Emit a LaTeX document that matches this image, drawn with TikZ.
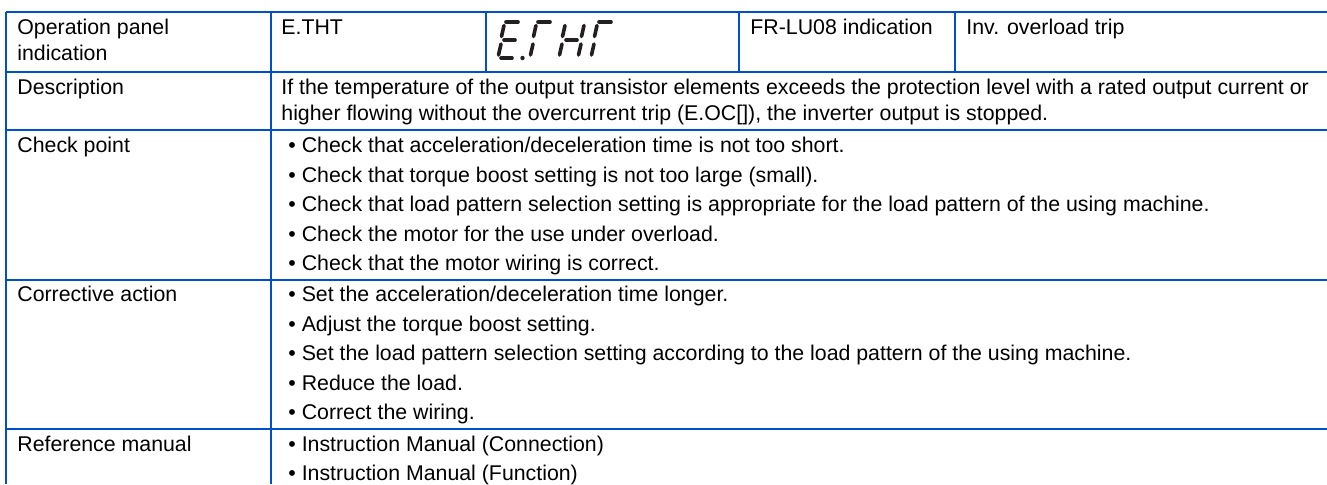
\documentclass[tikz,border=0pt]{standalone}
\usepackage{fontspec}
\setmainfont{Liberation Sans}
\definecolor{tblue}{RGB}{0,80,200}
\definecolor{segc}{RGB}{35,31,32}
\tikzset{
  grid/.style={draw=tblue, line width=0.9pt},
  txt/.style={anchor=base west, inner sep=0pt, font=\fontsize{10.66pt}{13pt}\selectfont},
  seg/.style={draw=segc, line width=1.8pt, line cap=round},
}
\newcommand{\segE}[1]{%
  \draw[seg] (#1+8,22) -- (#1+20,22);
  \draw[seg] (#1+6,25.5) -- (#1+3.5,36.5);
  \draw[seg] (#1+6,40) -- (#1+17,40);
  \draw[seg] (#1+3,44) -- (#1+0.5,55);
  \draw[seg] (#1+3,58) -- (#1+14,58);
}
\newcommand{\segT}[1]{%
  \draw[seg] (#1+8,22) -- (#1+20,22);
  \draw[seg] (#1+6,25.5) -- (#1+3.5,36.5);
  \draw[seg] (#1+3,44) -- (#1+0.5,55);
}
\newcommand{\segH}[1]{%
  \draw[seg] (#1+6,25.5) -- (#1+3.5,36.5);
  \draw[seg] (#1+3,44) -- (#1+0.5,55);
  \draw[seg] (#1+7,40) -- (#1+18,40);
  \draw[seg] (#1+25,25.5) -- (#1+22.5,36.5);
  \draw[seg] (#1+22,44) -- (#1+19.5,55);
}
\begin{document}
\begin{tikzpicture}[x=0.5pt,y=-0.5pt]
\useasboundingbox (0,0) rectangle (1327,484);
% grid
\draw[grid] (6,12) -- (1327,12);
\draw[grid] (6,72) -- (1327,72);
\draw[grid] (6,130) -- (1327,130);
\draw[grid] (6,280) -- (1327,280);
\draw[grid] (6,429) -- (1327,429);
\draw[grid] (6,12) -- (6,484);
\draw[grid] (271,12) -- (271,484);
\draw[grid] (486,12) -- (486,72);
\draw[grid] (739,12) -- (739,72);
\draw[grid] (955,12) -- (955,72);
% row 1
\node[txt] (op1) at (17,34) {Operation panel};
\node[txt] (op2) at (17,60.5) {indication};
\node[txt] (code) at (281,34) {E.THT};
\node[txt] (lu) at (750,34) {FR-LU08 indication};
\node[txt] (inv) at (966,34) {Inv. overload trip};
% seven segment display
\segE{498}
\fill[segc] (522.5,58) circle (2.2);
\segT{530}
\segH{559}
\segT{591}
% description
\node[txt] (desc) at (17,94) {Description};
\node[txt] (d1) at (281,94) {If the temperature of the output transistor elements exceeds the protection level with a rated output current or};
\node[txt] (d2) at (281,120.5) {higher flowing without the overcurrent trip (E.OC[]), the inverter output is stopped.};
% check point
\node[txt] (chk) at (17,152.5) {Check point};
\node[txt] (c1) at (288,152.5) {• Check that acceleration/deceleration time is not too short.};
\node[txt] (c2) at (288,182) {• Check that torque boost setting is not too large (small).};
\node[txt] (c3) at (288,211.5) {• Check that load pattern selection setting is appropriate for the load pattern of the using machine.};
\node[txt] (c4) at (288,241) {• Check the motor for the use under overload.};
\node[txt] (c5) at (288,270.5) {• Check that the motor wiring is correct.};
% corrective action
\node[txt] (cor) at (17,301.5) {Corrective action};
\node[txt] (a1) at (288,301.5) {• Set the acceleration/deceleration time longer.};
\node[txt] (a2) at (288,331) {• Adjust the torque boost setting.};
\node[txt] (a3) at (288,360.5) {• Set the load pattern selection setting according to the load pattern of the using machine.};
\node[txt] (a4) at (288,390) {• Reduce the load.};
\node[txt] (a5) at (288,419.5) {• Correct the wiring.};
% reference manual
\node[txt] (ref) at (17,451) {Reference manual};
\node[txt] (r1) at (288,451) {• Instruction Manual (Connection)};
\node[txt] (r2) at (288,480) {• Instruction Manual (Function)};
\end{tikzpicture}
\end{document}
